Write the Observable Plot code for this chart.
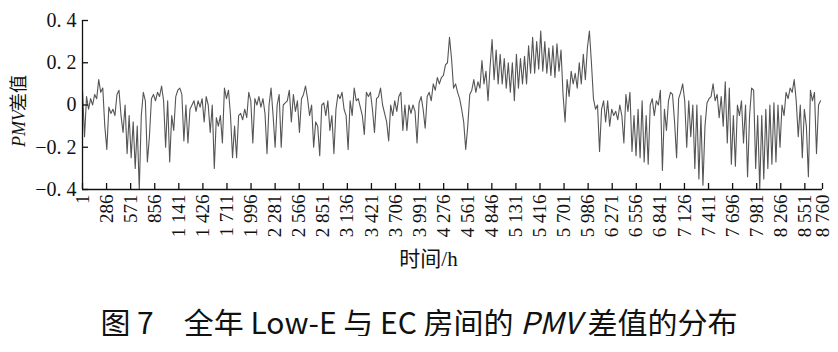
<!DOCTYPE html>
<html>
<head>
<meta charset="utf-8">
<script src="https://cdn.jsdelivr.net/npm/d3@7"></script>
<script src="https://cdn.jsdelivr.net/npm/@observablehq/plot@0.6"></script>
<style>
  html, body { margin: 0; padding: 0; background: #fff; }
  #wrap { width: 838px; }
  #caption {
    width: 838px; text-align: center; font-family: "Noto Sans CJK SC", "Noto Sans", sans-serif;
    font-size: 30px; line-height: 1; padding-top: 26px; color: #111;
  }
  #caption i { font-style: italic; }
</style>
</head>
<body>
<div id="wrap"></div>
<div id="caption">图 7　全年 Low-E 与 EC 房间的 <i>PMV</i> 差值的分布</div>
<script>
// PMV difference (Low-E minus EC), one reading per day (hour = 1 + 24*day)
const pmvDiff = [
  0.07,-0.15,0.04,-0.02,0.03,0.0,0.05,0.03,0.12,0.06,
  0.08,-0.1,-0.21,-0.01,-0.04,-0.02,-0.05,0.05,0.07,-0.05,
  -0.13,0.0,-0.23,-0.05,-0.25,-0.08,-0.3,-0.1,-0.4,-0.05,
  0.06,0.02,-0.27,-0.15,0.03,0.05,0.02,0.06,0.04,0.09,
  0.02,-0.2,0.02,-0.27,-0.05,-0.12,0.04,0.07,0.08,0.05,
  -0.17,0.0,-0.18,-0.02,0.0,0.02,-0.03,0.02,-0.01,0.03,
  -0.08,0.04,
  0.0,-0.13,0.0,-0.3,-0.06,-0.1,-0.05,-0.18,0.08,0.03,
  0.07,-0.05,-0.25,-0.1,-0.25,-0.05,-0.04,-0.07,-0.02,-0.06,
  0.06,0.02,-0.18,0.03,0.0,0.04,-0.01,0.03,-0.04,-0.23,
  0.0,0.08,-0.05,-0.2,0.0,0.05,-0.2,0.0,0.01,0.02,
  0.07,-0.08,0.05,-0.03,0.02,-0.13,0.03,0.05,0.09,0.03,
  -0.05,0.0,-0.2,-0.08,-0.1,-0.24,0.0,0.01,-0.05,0.02,
  -0.12,-0.05,-0.23,-0.02,0.05,0.03,0.06,-0.02,-0.05,-0.21,
  0.02,-0.05,0.08,0.02,0.03,-0.01,-0.05,-0.14,0.06,0.04,
  0.06,-0.02,-0.13,0.03,0.04,0.08,0.0,-0.04,-0.08,-0.17,
  0.0,-0.05,0.02,-0.03,0.04,0.06,-0.12,0.0,-0.12,0.0,
  -0.04,0.0,-0.03,-0.18,0.01,0.04,-0.02,-0.11,0.04,0.06,
  0.02,0.1,0.07,0.13,0.1,0.13,0.14,0.19,0.2,0.32,
  0.22,
  0.08,0.1,0.06,0.03,-0.02,-0.08,-0.21,-0.1,0.05,0.07,
  0.12,0.06,0.11,0.08,0.21,0.1,0.16,0.02,0.18,0.31,
  0.12,0.26,0.1,0.24,0.1,0.22,0.08,0.2,0.06,0.2,
  0.02,0.24,0.08,0.22,0.1,0.23,0.1,0.28,0.15,0.32,
  0.15,0.3,0.17,0.35,0.16,0.3,0.15,0.27,0.14,0.28,
  0.13,0.29,0.16,0.26,0.05,-0.08,0.12,0.04,0.16,0.1,
  0.15,0.08,0.2,0.1,0.24,0.12,0.27,0.35,0.2,0.03,
  -0.02,0.0,-0.22,-0.02,0.02,-0.08,0.02,-0.1,-0.02,-0.05,
  -0.03,-0.07,0.0,-0.05,-0.18,0.05,-0.03,0.06,-0.22,-0.05,
  -0.24,-0.02,-0.25,0.02,-0.27,-0.05,-0.28,0.0,0.03,-0.05,
  0.02,0.0,0.07,-0.31,-0.02,-0.12,0.02,0.06,0.05,-0.08,
  -0.25,0.03,0.06,0.1,0.02,-0.2,0.02,-0.15,0.0,-0.3,
  0.0,-0.35,-0.05,-0.38,-0.1,0.01,0.03,0.04,0.1,0.02,
  0.05,-0.06,0.04,-0.1,0.11,-0.18,0.08,-0.28,-0.05,-0.29,
  0.0,-0.05,0.02,-0.18,0.0,-0.34,-0.05,0.08,0.07,-0.3,
  -0.05,-0.4,-0.05,-0.35,-0.02,-0.3,0.0,-0.28,0.01,-0.27,
  0.0,-0.2,0.0,-0.05,0.06,0.03,0.08,0.06,0.12,0.02,
  -0.15,0.0,-0.25,-0.02,-0.1,-0.34,0.07,0.02,0.06,-0.23,
  0.0,0.02
];

const xTickValues = [1,286,571,856,1141,1426,1711,1996,2281,2566,2851,3136,3421,3706,3991,4276,4561,4846,5131,5416,5701,5986,6271,6556,6841,7126,7411,7696,7981,8266,8551,8760];
const xTickLabels = ["1","286","571","856","1 141","1 426","1 711","1 996","2 281","2 566","2 851","3 136","3 421","3 706","3 991","4 276","4 561","4 846","5 131","5 416","5 701","5 986","6 271","6 556","6 841","7 126","7 411","7 696","7 981","8 266","8 551","8 760"];
const yTickValues = [-0.4,-0.2,0,0.2,0.4];
const yTickLabels = ["\u22120. 4","\u22120. 2","0","0. 2","0. 4"];
const xTitle = "时间/h";
const yTitleItalic = "PMV";
const yTitleRest = "差值";

const data = pmvDiff.map((v, i) => ({hour: 1 + 24 * i, pmv: v}));

const W = 838, H = 280, mL = 82, mR = 16, mT = 20, mB = 91;
const frameW = W - mL - mR, frameH = H - mT - mB;
const serif = "'Liberation Serif', 'Times New Roman', 'Noto Sans CJK SC', serif";

const chart = Plot.plot({
  width: W, height: H,
  marginLeft: mL, marginRight: mR, marginTop: mT, marginBottom: mB,
  style: {fontFamily: serif, color: "#111", background: "#fff"},
  x: {domain: [1, 8760], axis: null, label: null},
  y: {domain: [-0.4, 0.4], axis: null, label: null},
  marks: [
    Plot.lineY(data, {x: "hour", y: "pmv", stroke: "#555", strokeWidth: 1.1}),
    Plot.ruleX([1], {stroke: "#111", strokeWidth: 1.3}),
    Plot.ruleY([-0.4], {stroke: "#111", strokeWidth: 1.3}),
    Plot.ruleX(xTickValues, {x: d => d, insetTop: frameH - 6, stroke: "#111", strokeWidth: 1.3}),
    Plot.ruleY(yTickValues, {y: d => d, insetRight: frameW - 6, stroke: "#111", strokeWidth: 1.3}),
    Plot.axisX(xTickValues, {
      label: null, tickSize: 0, tickPadding: 5, tickRotate: -90,
      tickFormat: d => xTickLabels[xTickValues.indexOf(d)],
      fontSize: 19, fill: "#111"
    }),
    Plot.axisY(yTickValues, {
      label: null, tickSize: 0, tickPadding: 6,
      tickFormat: d => yTickLabels[yTickValues.indexOf(d)],
      fontSize: 20, fill: "#111"
    }),
    Plot.text([xTitle], {frameAnchor: "bottom", dx: -24, dy: 76, fontSize: 21, fill: "#111"}),
    Plot.text([yTitleItalic], {frameAnchor: "left", dx: -63, dy: 42, rotate: -90, textAnchor: "start", fontSize: 18, fontStyle: "italic", fill: "#111"}),
    Plot.text([yTitleRest], {frameAnchor: "left", dx: -63, dy: 6, rotate: -90, textAnchor: "start", fontSize: 18, fill: "#111"})
  ]
});
document.getElementById("wrap").appendChild(chart);
</script>
</body>
</html>
